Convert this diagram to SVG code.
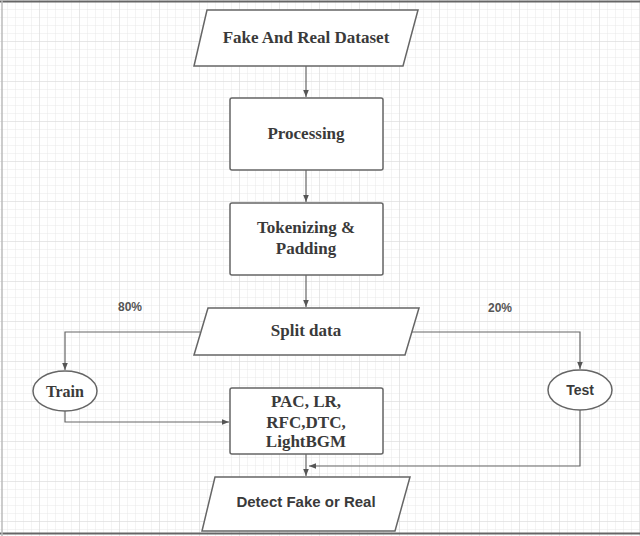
<svg xmlns="http://www.w3.org/2000/svg" width="640" height="536" viewBox="0 0 640 536">
<defs>
<pattern id="minor" width="8" height="8" patternUnits="userSpaceOnUse" x="0" y="2">
<path d="M8 0V8M0 8H8" fill="none" stroke="#e8e8e8" stroke-width="1"/>
</pattern>
<pattern id="major" width="40" height="40" patternUnits="userSpaceOnUse" x="0" y="2">
<path d="M40 0V40M0 40H40" fill="none" stroke="#dadada" stroke-width="1"/>
</pattern>
<marker id="arr" viewBox="0 0 10 10" refX="10" refY="5" markerWidth="6" markerHeight="6" orient="auto">
<path d="M0 1L10 5L0 9z" fill="#555"/>
</marker>
<style>
.shape{fill:#fff;stroke:#666;stroke-width:1.5}
.serif{font-family:"Liberation Serif","Times New Roman",serif;font-weight:bold;font-size:17px;fill:#3a3a3a;text-anchor:middle}
.sans{font-family:"Liberation Sans",Arial,sans-serif;font-weight:bold;font-size:15px;fill:#3a3a3a;text-anchor:middle}
.pct{font-family:"Liberation Sans",Arial,sans-serif;font-weight:bold;font-size:12px;fill:#555;text-anchor:middle}
.conn{fill:none;stroke:#666;stroke-width:1.2}
</style>
</defs>
<rect width="640" height="536" fill="#fff"/>
<rect width="640" height="536" fill="url(#minor)"/>
<rect width="640" height="536" fill="url(#major)"/>
<line x1="0" y1="1.5" x2="640" y2="1.5" stroke="#666" stroke-width="2"/>
<line x1="0" y1="533.5" x2="640" y2="533.5" stroke="#666" stroke-width="2"/>
<line x1="2" y1="0" x2="2" y2="536" stroke="#bbb" stroke-width="1.5"/>

<g id="connectors">
<path class="conn" d="M306 66V97" marker-end="url(#arr)"/>
<path class="conn" d="M306 170V202" marker-end="url(#arr)"/>
<path class="conn" d="M306 275V307" marker-end="url(#arr)"/>
<path class="conn" d="M200 332H65V370" marker-end="url(#arr)"/>
<path class="conn" d="M412 332H580V369" marker-end="url(#arr)"/>
<path class="conn" d="M65 411V422H229" marker-end="url(#arr)"/>
<path class="conn" d="M306 454V476" marker-end="url(#arr)"/>
<path class="conn" d="M580 410V466H309" marker-end="url(#arr)"/>
<text class="pct" x="130" y="311">80%</text>
<text class="pct" x="500" y="312">20%</text>
</g>

<g id="dataset">
<polygon class="shape" points="207,10 418,10 403,66 194,66"/>
<text class="serif" x="306" y="43">Fake And Real Dataset</text>
</g>
<g id="processing">
<rect class="shape" x="230" y="98" width="153" height="72" rx="2"/>
<text class="serif" x="306" y="139">Processing</text>
</g>
<g id="tokenizing">
<rect class="shape" x="230" y="203" width="153" height="72" rx="2"/>
<text class="serif" x="306" y="233">Tokenizing &amp;</text>
<text class="serif" x="306" y="254">Padding</text>
</g>
<g id="split">
<polygon class="shape" points="208,308 419,308 405,355 194,355"/>
<text class="serif" x="306" y="336">Split data</text>
</g>
<g id="train">
<ellipse class="shape" cx="65" cy="391" rx="32" ry="20"/>
<text class="serif" x="65" y="397" style="font-size:16px">Train</text>
</g>
<g id="test">
<ellipse class="shape" cx="580" cy="390" rx="32" ry="20"/>
<text class="sans" x="580" y="395" style="font-size:14px">Test</text>
</g>
<g id="models">
<rect class="shape" x="230" y="388" width="153" height="66" rx="2"/>
<text class="serif" x="306" y="407">PAC, LR,</text>
<text class="serif" x="306" y="428">RFC,DTC,</text>
<text class="serif" x="306" y="447">LightBGM</text>
</g>
<g id="detect">
<polygon class="shape" points="215,477 410,477 395,531 202,531"/>
<text class="sans" x="306" y="507">Detect Fake or Real</text>
</g>
</svg>
